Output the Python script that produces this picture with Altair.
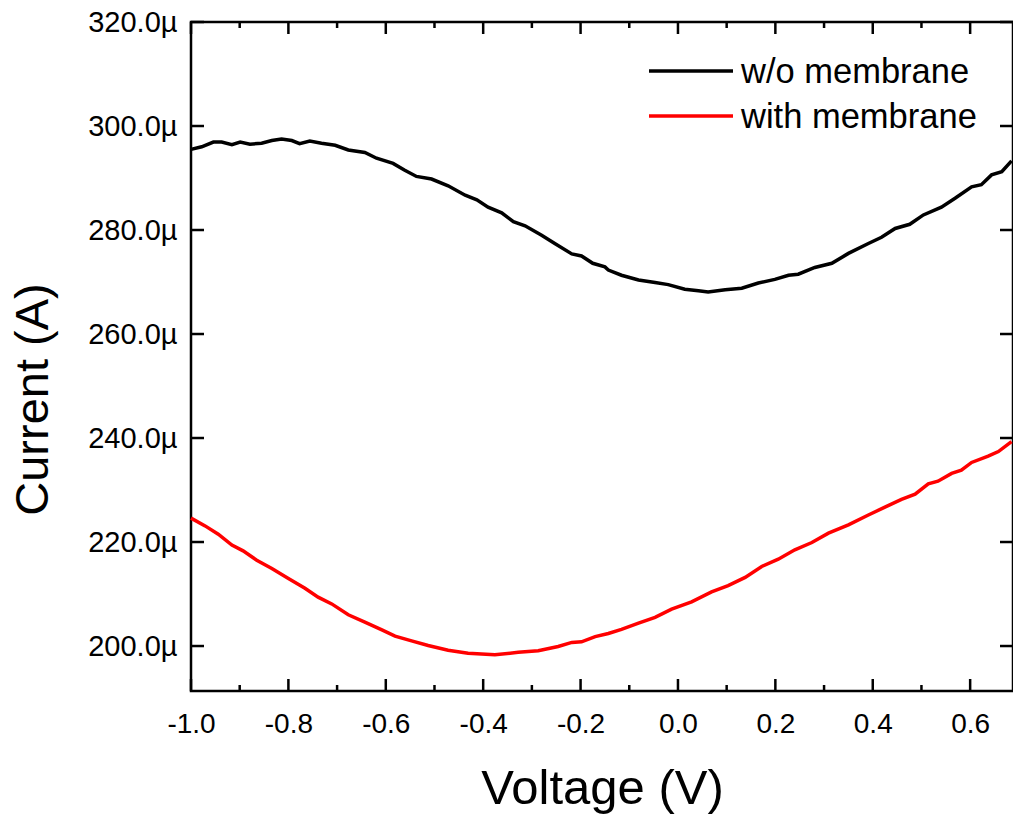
import altair as alt
import pandas as pd

# I-V sweep, current in microamps
v_without = [-1.0, -0.978, -0.954, -0.937, -0.916, -0.899, -0.879, -0.855, -0.834, -0.814,
             -0.793, -0.777, -0.756, -0.732, -0.704, -0.677, -0.643, -0.619, -0.585, -0.561,
             -0.537, -0.506, -0.472, -0.437, -0.413, -0.390, -0.362, -0.338, -0.314, -0.280,
             -0.253, -0.218, -0.198, -0.175, -0.150, -0.143, -0.116, -0.081, -0.047, -0.020,
             0.014, 0.042, 0.062, 0.097, 0.131, 0.165, 0.199, 0.227, 0.247, 0.281,
             0.316, 0.350, 0.391, 0.418, 0.446, 0.476, 0.504, 0.541, 0.569, 0.603,
             0.623, 0.644, 0.665, 0.685]
i_without = [295.5, 296.0, 296.9, 296.9, 296.4, 296.9, 296.5, 296.7, 297.2, 297.5,
             297.2, 296.6, 297.1, 296.7, 296.3, 295.4, 294.9, 293.8, 292.8, 291.5,
             290.3, 289.8, 288.5, 286.7, 285.8, 284.4, 283.3, 281.6, 280.8, 279.0,
             277.4, 275.4, 275.0, 273.6, 272.9, 272.3, 271.3, 270.4, 269.9, 269.5,
             268.6, 268.3, 268.1, 268.5, 268.8, 269.8, 270.5, 271.3, 271.5, 272.8,
             273.6, 275.5, 277.4, 278.6, 280.3, 281.1, 282.9, 284.4, 286.1, 288.3,
             288.7, 290.6, 291.2, 293.3]

v_with = [-1.0, -0.971, -0.944, -0.916, -0.893, -0.865, -0.834, -0.800, -0.766, -0.739,
          -0.711, -0.677, -0.643, -0.608, -0.581, -0.547, -0.513, -0.472, -0.431, -0.376,
          -0.328, -0.287, -0.246, -0.218, -0.198, -0.170, -0.143, -0.116, -0.081, -0.047,
          -0.013, 0.028, 0.069, 0.103, 0.138, 0.172, 0.206, 0.240, 0.275, 0.309,
          0.350, 0.391, 0.425, 0.459, 0.487, 0.514, 0.534, 0.562, 0.582, 0.603,
          0.637, 0.658, 0.685]
i_with = [224.6, 223.1, 221.5, 219.4, 218.3, 216.5, 214.9, 213.0, 211.1, 209.4,
          208.1, 206.0, 204.6, 203.1, 201.9, 201.0, 200.1, 199.2, 198.6, 198.3,
          198.8, 199.1, 199.9, 200.7, 200.8, 201.8, 202.4, 203.2, 204.4, 205.5,
          207.1, 208.5, 210.4, 211.6, 213.2, 215.3, 216.7, 218.5, 219.9, 221.7,
          223.3, 225.2, 226.7, 228.2, 229.2, 231.2, 231.7, 233.2, 233.8, 235.3,
          236.5, 237.4, 239.3]

series_names = ["w/o membrane", "with membrane"]
series_colors = ["#000000", "#ff0000"]

x_major = [-1.0, -0.8, -0.6, -0.4, -0.2, 0.0, 0.2, 0.4, 0.6]
x_minor = [-0.9, -0.7, -0.5, -0.3, -0.1, 0.1, 0.3, 0.5]
y_major = [200, 220, 240, 260, 280, 300, 320]

W, H = 822, 669
FONT = "Liberation Sans"

curves = pd.concat([
    pd.DataFrame({"v": v_without, "i": i_without, "s": series_names[0], "order": range(len(v_without))}),
    pd.DataFrame({"v": v_with, "i": i_with, "s": series_names[1], "order": range(len(v_with))}),
])

x_scale = alt.Scale(domain=[-1.0, 0.688], nice=False, zero=False)
y_scale = alt.Scale(domain=[191.35, 320.0], nice=False, zero=False)

# plain hyphen for negative voltages
x_axis = alt.Axis(values=x_major,
                  labelExpr="(datum.value < -0.001 ? '-' : '') + format(abs(datum.value), '.1f')",
                  tickSize=0, domain=False, grid=False,
                  labelFontSize=28, labelPadding=19, labelColor="black", labelFont=FONT,
                  title="Voltage (V)", titleFont=FONT, titleFontSize=49, titleFontWeight="normal",
                  titleColor="black", titleBaseline="alphabetic", titleY=112,
                  labelFlush=False)
y_axis = alt.Axis(values=y_major, labelExpr="format(datum.value, '.1f') + 'µ'", tickSize=0,
                  domain=False, grid=False, labelFontSize=29, labelPadding=14,
                  labelColor="black", labelFont=FONT,
                  title="Current (A)", titleFont=FONT, titleFontSize=47, titleFontWeight="normal",
                  titleColor="black", titleAngle=270, titleAlign="center", titleBaseline="middle",
                  titleX=-158, titleY=377)

X = alt.X("v:Q", scale=x_scale, axis=x_axis)
Y = alt.Y("i:Q", scale=y_scale, axis=y_axis)

lines = alt.Chart(curves).mark_line(strokeWidth=3.5).encode(
    x=X, y=Y,
    color=alt.Color("s:N", scale=alt.Scale(domain=series_names, range=series_colors), legend=None),
    order="order:Q",
)

# inward-pointing ticks on all four sides
xmaj = pd.DataFrame({"v": x_major})
xmin = pd.DataFrame({"v": x_minor})
ymaj = pd.DataFrame({"i": y_major})

tick_style = dict(color="black", strokeWidth=2.5)
ticks = [
    alt.Chart(xmaj).mark_rule(**tick_style).encode(x=X, y=alt.value(H), y2=alt.value(H - 12)),
    alt.Chart(xmaj).mark_rule(**tick_style).encode(x=X, y=alt.value(0), y2=alt.value(12)),
    alt.Chart(xmin).mark_rule(**tick_style).encode(x=X, y=alt.value(H), y2=alt.value(H - 6)),
    alt.Chart(xmin).mark_rule(**tick_style).encode(x=X, y=alt.value(0), y2=alt.value(6)),
    alt.Chart(ymaj).mark_rule(**tick_style).encode(y=Y, x=alt.value(0), x2=alt.value(13)),
    alt.Chart(ymaj).mark_rule(**tick_style).encode(y=Y, x=alt.value(W), x2=alt.value(W - 13)),
]

# legend
legend = []
for k, (name, col) in enumerate(zip(series_names, series_colors)):
    y0 = 49 + 45 * k
    legend.append(alt.Chart(pd.DataFrame({"s": [name]})).mark_rule(color=col, strokeWidth=3.5).encode(
        x=alt.value(458), x2=alt.value(542), y=alt.value(y0)))
    legend.append(alt.Chart(pd.DataFrame({"s": [name]})).mark_text(
        align="left", baseline="alphabetic", font=FONT, fontSize=34.5, color="black").encode(
        x=alt.value(550), y=alt.value(y0 + 12), text="s:N"))

chart = alt.layer(lines, *ticks, *legend).properties(
    width=W, height=H,
    padding={"left": 191, "top": 22, "right": 0, "bottom": 123},
    autosize=alt.AutoSizeParams(type="none"),
    background="white",
).configure_view(stroke="black", strokeWidth=2.5)

chart.save("out.html", embed_options={"renderer": "svg", "actions": False})
